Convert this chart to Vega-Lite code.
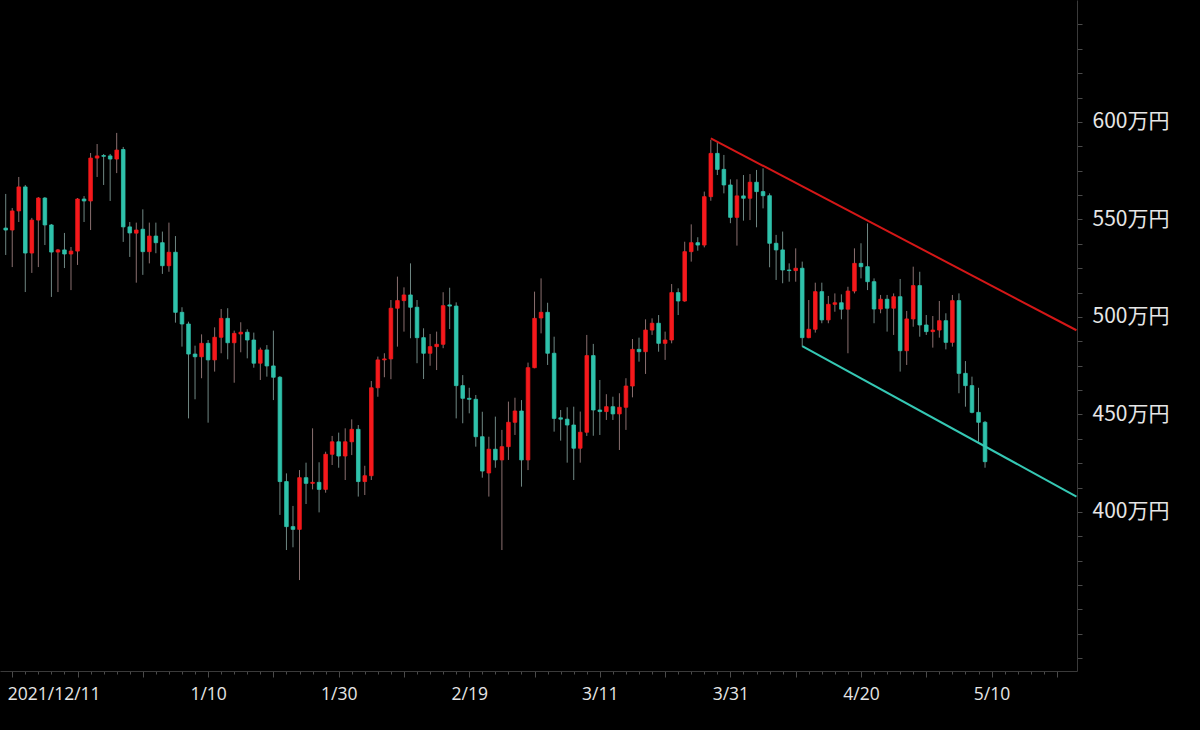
{
  "$schema": "https://vega.github.io/schema/vega-lite/v6.json",
  "description": "BTC/JPY daily candles, Dec 2021 - May 2022, with trend lines",
  "width": 1077,
  "height": 671,
  "autosize": {"type": "none"},
  "padding": {"left": 0, "top": 0, "right": 123, "bottom": 59},
  "background": "#000000",
  "config": {
    "view": {"stroke": null},
    "axis": {"domainColor": "#3a3a3a", "tickColor": "#4a4a4a", "grid": false}
  },
  "datasets": {
    "candles": [
      {"date": "2021-12-10", "open": 545.6, "high": 563.1, "low": 531.8, "close": 544.6},
      {"date": "2021-12-11", "open": 544.6, "high": 555.9, "low": 525.6, "close": 554.4},
      {"date": "2021-12-12", "open": 554.4, "high": 571.8, "low": 548.7, "close": 566.7},
      {"date": "2021-12-13", "open": 566.7, "high": 567.7, "low": 512.8, "close": 532.8},
      {"date": "2021-12-14", "open": 532.8, "high": 550.8, "low": 522.6, "close": 549.7},
      {"date": "2021-12-15", "open": 549.7, "high": 561.5, "low": 525.6, "close": 561.0},
      {"date": "2021-12-16", "open": 561.0, "high": 561.5, "low": 536.9, "close": 547.2},
      {"date": "2021-12-17", "open": 547.2, "high": 547.7, "low": 510.3, "close": 533.3},
      {"date": "2021-12-18", "open": 533.3, "high": 534.9, "low": 512.8, "close": 534.4},
      {"date": "2021-12-19", "open": 534.4, "high": 543.1, "low": 525.1, "close": 532.3},
      {"date": "2021-12-20", "open": 532.3, "high": 535.9, "low": 513.8, "close": 533.8},
      {"date": "2021-12-21", "open": 533.8, "high": 561.0, "low": 526.7, "close": 560.5},
      {"date": "2021-12-22", "open": 560.5, "high": 562.0, "low": 548.7, "close": 559.5},
      {"date": "2021-12-23", "open": 559.5, "high": 584.1, "low": 544.6, "close": 581.5},
      {"date": "2021-12-24", "open": 581.5, "high": 588.7, "low": 571.8, "close": 582.6},
      {"date": "2021-12-25", "open": 582.8, "high": 583.6, "low": 567.7, "close": 582.4},
      {"date": "2021-12-26", "open": 582.6, "high": 583.6, "low": 559.5, "close": 581.0},
      {"date": "2021-12-27", "open": 581.0, "high": 594.4, "low": 573.8, "close": 585.6},
      {"date": "2021-12-28", "open": 585.9, "high": 587.2, "low": 538.5, "close": 546.2},
      {"date": "2021-12-29", "open": 546.2, "high": 548.7, "low": 530.8, "close": 543.1},
      {"date": "2021-12-30", "open": 543.0, "high": 548.4, "low": 517.6, "close": 544.6},
      {"date": "2021-12-31", "open": 545.0, "high": 555.2, "low": 521.6, "close": 533.5},
      {"date": "2022-01-01", "open": 533.5, "high": 548.4, "low": 527.5, "close": 541.5},
      {"date": "2022-01-02", "open": 541.5, "high": 548.4, "low": 532.7, "close": 538.1},
      {"date": "2022-01-03", "open": 538.1, "high": 543.8, "low": 522.1, "close": 526.3},
      {"date": "2022-01-04", "open": 526.3, "high": 548.4, "low": 523.2, "close": 533.2},
      {"date": "2022-01-05", "open": 533.2, "high": 541.5, "low": 497.1, "close": 502.4},
      {"date": "2022-01-06", "open": 502.4, "high": 505.0, "low": 484.8, "close": 496.4},
      {"date": "2022-01-07", "open": 496.4, "high": 497.6, "low": 448.0, "close": 481.0},
      {"date": "2022-01-08", "open": 481.0, "high": 485.3, "low": 457.8, "close": 479.6},
      {"date": "2022-01-09", "open": 479.6, "high": 491.1, "low": 468.6, "close": 486.5},
      {"date": "2022-01-10", "open": 486.5, "high": 488.2, "low": 445.8, "close": 478.0},
      {"date": "2022-01-11", "open": 478.0, "high": 494.7, "low": 472.0, "close": 489.6},
      {"date": "2022-01-12", "open": 489.6, "high": 504.1, "low": 481.4, "close": 499.3},
      {"date": "2022-01-13", "open": 499.3, "high": 504.5, "low": 478.3, "close": 486.8},
      {"date": "2022-01-14", "open": 486.8, "high": 493.0, "low": 466.3, "close": 491.6},
      {"date": "2022-01-15", "open": 491.3, "high": 497.3, "low": 481.9, "close": 492.2},
      {"date": "2022-01-16", "open": 492.2, "high": 493.7, "low": 478.8, "close": 488.2},
      {"date": "2022-01-17", "open": 488.2, "high": 492.0, "low": 474.0, "close": 476.3},
      {"date": "2022-01-18", "open": 476.3, "high": 484.3, "low": 467.7, "close": 483.1},
      {"date": "2022-01-19", "open": 483.1, "high": 485.6, "low": 469.4, "close": 474.9},
      {"date": "2022-01-20", "open": 474.9, "high": 493.0, "low": 457.4, "close": 469.1},
      {"date": "2022-01-21", "open": 469.1, "high": 469.7, "low": 398.5, "close": 415.6},
      {"date": "2022-01-22", "open": 415.6, "high": 419.8, "low": 380.5, "close": 392.5},
      {"date": "2022-01-23", "open": 392.5, "high": 403.1, "low": 381.9, "close": 391.1},
      {"date": "2022-01-24", "open": 391.1, "high": 421.5, "low": 365.1, "close": 417.6},
      {"date": "2022-01-25", "open": 417.6, "high": 425.3, "low": 404.1, "close": 414.7},
      {"date": "2022-01-26", "open": 414.7, "high": 442.9, "low": 411.6, "close": 415.2},
      {"date": "2022-01-27", "open": 415.2, "high": 425.5, "low": 399.8, "close": 411.6},
      {"date": "2022-01-28", "open": 411.6, "high": 430.9, "low": 409.9, "close": 429.6},
      {"date": "2022-01-29", "open": 429.6, "high": 439.0, "low": 424.1, "close": 436.0},
      {"date": "2022-01-30", "open": 436.0, "high": 440.7, "low": 422.7, "close": 428.7},
      {"date": "2022-01-31", "open": 428.7, "high": 442.9, "low": 416.4, "close": 436.0},
      {"date": "2022-02-01", "open": 436.0, "high": 447.5, "low": 429.2, "close": 442.4},
      {"date": "2022-02-02", "open": 442.4, "high": 444.6, "low": 407.9, "close": 415.6},
      {"date": "2022-02-03", "open": 415.6, "high": 423.7, "low": 408.7, "close": 418.6},
      {"date": "2022-02-04", "open": 418.6, "high": 467.2, "low": 416.4, "close": 463.7},
      {"date": "2022-02-05", "open": 463.7, "high": 479.7, "low": 459.1, "close": 478.0},
      {"date": "2022-02-06", "open": 478.0, "high": 481.4, "low": 469.1, "close": 478.5},
      {"date": "2022-02-07", "open": 478.5, "high": 508.7, "low": 468.1, "close": 504.5},
      {"date": "2022-02-08", "open": 504.5, "high": 520.7, "low": 484.8, "close": 508.4},
      {"date": "2022-02-09", "open": 508.4, "high": 515.2, "low": 492.5, "close": 511.3},
      {"date": "2022-02-10", "open": 511.3, "high": 527.5, "low": 489.1, "close": 505.0},
      {"date": "2022-02-11", "open": 505.0, "high": 508.7, "low": 476.3, "close": 489.4},
      {"date": "2022-02-12", "open": 489.4, "high": 494.2, "low": 468.2, "close": 481.4},
      {"date": "2022-02-13", "open": 481.4, "high": 491.3, "low": 475.0, "close": 484.8},
      {"date": "2022-02-14", "open": 484.8, "high": 492.5, "low": 472.8, "close": 486.0},
      {"date": "2022-02-15", "open": 486.0, "high": 512.7, "low": 484.0, "close": 505.8},
      {"date": "2022-02-16", "open": 506.2, "high": 515.0, "low": 493.8, "close": 505.6},
      {"date": "2022-02-17", "open": 505.6, "high": 507.5, "low": 448.0, "close": 464.8},
      {"date": "2022-02-18", "open": 464.8, "high": 470.2, "low": 445.5, "close": 458.3},
      {"date": "2022-02-19", "open": 458.3, "high": 463.7, "low": 450.6, "close": 457.8},
      {"date": "2022-02-20", "open": 457.8, "high": 460.0, "low": 433.5, "close": 438.6},
      {"date": "2022-02-21", "open": 438.6, "high": 451.4, "low": 417.6, "close": 421.0},
      {"date": "2022-02-22", "open": 420.0, "high": 438.6, "low": 407.9, "close": 432.2},
      {"date": "2022-02-23", "open": 432.2, "high": 448.9, "low": 422.7, "close": 426.7},
      {"date": "2022-02-24", "open": 426.7, "high": 442.1, "low": 380.5, "close": 433.5},
      {"date": "2022-02-25", "open": 433.5, "high": 456.6, "low": 426.7, "close": 446.0},
      {"date": "2022-02-26", "open": 446.0, "high": 458.6, "low": 439.5, "close": 451.8},
      {"date": "2022-02-27", "open": 451.8, "high": 457.4, "low": 413.0, "close": 426.7},
      {"date": "2022-02-28", "open": 426.7, "high": 476.6, "low": 421.5, "close": 474.0},
      {"date": "2022-03-01", "open": 474.0, "high": 513.0, "low": 473.7, "close": 499.3},
      {"date": "2022-03-02", "open": 499.5, "high": 519.8, "low": 491.6, "close": 502.4},
      {"date": "2022-03-03", "open": 502.4, "high": 507.3, "low": 475.4, "close": 481.4},
      {"date": "2022-03-04", "open": 481.4, "high": 489.9, "low": 441.2, "close": 448.0},
      {"date": "2022-03-05", "open": 448.3, "high": 452.3, "low": 436.6, "close": 447.6},
      {"date": "2022-03-06", "open": 447.6, "high": 453.7, "low": 425.3, "close": 444.6},
      {"date": "2022-03-07", "open": 444.6, "high": 454.0, "low": 416.4, "close": 432.7},
      {"date": "2022-03-08", "open": 432.7, "high": 451.5, "low": 425.3, "close": 440.9},
      {"date": "2022-03-09", "open": 440.9, "high": 490.8, "low": 439.0, "close": 480.2},
      {"date": "2022-03-10", "open": 480.2, "high": 486.2, "low": 439.1, "close": 452.3},
      {"date": "2022-03-11", "open": 452.3, "high": 467.7, "low": 439.5, "close": 451.5},
      {"date": "2022-03-12", "open": 451.5, "high": 460.4, "low": 447.2, "close": 454.0},
      {"date": "2022-03-13", "open": 454.0, "high": 459.1, "low": 447.2, "close": 450.3},
      {"date": "2022-03-14", "open": 450.3, "high": 460.9, "low": 431.8, "close": 453.7},
      {"date": "2022-03-15", "open": 453.7, "high": 468.6, "low": 442.1, "close": 464.6},
      {"date": "2022-03-16", "open": 464.6, "high": 488.7, "low": 458.8, "close": 483.4},
      {"date": "2022-03-17", "open": 483.4, "high": 489.4, "low": 477.1, "close": 482.2},
      {"date": "2022-03-18", "open": 482.2, "high": 498.8, "low": 470.8, "close": 493.3},
      {"date": "2022-03-19", "open": 493.3, "high": 499.3, "low": 490.8, "close": 496.8},
      {"date": "2022-03-20", "open": 496.8, "high": 501.0, "low": 482.2, "close": 486.5},
      {"date": "2022-03-21", "open": 486.5, "high": 492.5, "low": 478.0, "close": 488.2},
      {"date": "2022-03-22", "open": 488.2, "high": 516.9, "low": 486.5, "close": 512.5},
      {"date": "2022-03-23", "open": 512.5, "high": 514.7, "low": 501.0, "close": 508.2},
      {"date": "2022-03-24", "open": 508.2, "high": 538.6, "low": 507.8, "close": 533.5},
      {"date": "2022-03-25", "open": 533.5, "high": 547.5, "low": 528.4, "close": 538.1},
      {"date": "2022-03-26", "open": 538.1, "high": 540.9, "low": 534.0, "close": 536.9},
      {"date": "2022-03-27", "open": 536.9, "high": 564.3, "low": 535.7, "close": 561.7},
      {"date": "2022-03-28", "open": 561.7, "high": 590.8, "low": 559.6, "close": 583.9},
      {"date": "2022-03-29", "open": 583.9, "high": 589.9, "low": 572.8, "close": 575.7},
      {"date": "2022-03-30", "open": 575.7, "high": 583.1, "low": 563.4, "close": 567.7},
      {"date": "2022-03-31", "open": 567.7, "high": 570.6, "low": 548.1, "close": 551.1},
      {"date": "2022-04-01", "open": 551.1, "high": 570.6, "low": 536.6, "close": 562.1},
      {"date": "2022-04-02", "open": 562.1, "high": 572.8, "low": 549.4, "close": 560.9},
      {"date": "2022-04-03", "open": 560.9, "high": 573.3, "low": 549.7, "close": 569.1},
      {"date": "2022-04-04", "open": 569.1, "high": 575.4, "low": 546.0, "close": 564.3},
      {"date": "2022-04-05", "open": 564.3, "high": 576.2, "low": 555.7, "close": 562.2},
      {"date": "2022-04-06", "open": 562.2, "high": 563.4, "low": 525.5, "close": 537.8},
      {"date": "2022-04-07", "open": 537.8, "high": 542.1, "low": 519.0, "close": 534.4},
      {"date": "2022-04-08", "open": 534.4, "high": 543.8, "low": 517.3, "close": 524.1},
      {"date": "2022-04-09", "open": 524.1, "high": 527.5, "low": 518.1, "close": 523.8},
      {"date": "2022-04-10", "open": 523.8, "high": 535.2, "low": 518.1, "close": 525.0},
      {"date": "2022-04-11", "open": 525.0, "high": 528.4, "low": 484.8, "close": 489.4},
      {"date": "2022-04-12", "open": 489.4, "high": 508.7, "low": 489.1, "close": 493.7},
      {"date": "2022-04-13", "open": 493.7, "high": 517.6, "low": 492.0, "close": 513.0},
      {"date": "2022-04-14", "open": 513.0, "high": 517.6, "low": 496.8, "close": 498.5},
      {"date": "2022-04-15", "open": 498.5, "high": 510.8, "low": 496.8, "close": 506.5},
      {"date": "2022-04-16", "open": 506.5, "high": 512.1, "low": 502.7, "close": 507.3},
      {"date": "2022-04-17", "open": 507.3, "high": 511.6, "low": 498.8, "close": 504.0},
      {"date": "2022-04-18", "open": 504.0, "high": 515.5, "low": 481.4, "close": 513.3},
      {"date": "2022-04-19", "open": 513.3, "high": 535.2, "low": 512.1, "close": 527.5},
      {"date": "2022-04-20", "open": 527.5, "high": 537.8, "low": 519.8, "close": 525.8},
      {"date": "2022-04-21", "open": 525.8, "high": 548.0, "low": 513.8, "close": 518.1},
      {"date": "2022-04-22", "open": 518.1, "high": 519.8, "low": 496.8, "close": 504.1},
      {"date": "2022-04-23", "open": 504.1, "high": 511.3, "low": 501.9, "close": 509.1},
      {"date": "2022-04-24", "open": 509.1, "high": 511.3, "low": 492.5, "close": 504.5},
      {"date": "2022-04-25", "open": 504.5, "high": 512.1, "low": 490.8, "close": 510.4},
      {"date": "2022-04-26", "open": 510.4, "high": 519.5, "low": 472.0, "close": 482.7},
      {"date": "2022-04-27", "open": 482.7, "high": 503.1, "low": 475.4, "close": 499.0},
      {"date": "2022-04-28", "open": 499.0, "high": 525.8, "low": 495.0, "close": 516.1},
      {"date": "2022-04-29", "open": 516.1, "high": 523.2, "low": 489.9, "close": 495.9},
      {"date": "2022-04-30", "open": 495.9, "high": 501.0, "low": 490.8, "close": 492.5},
      {"date": "2022-05-01", "open": 492.5, "high": 500.5, "low": 484.3, "close": 493.3},
      {"date": "2022-05-02", "open": 493.3, "high": 508.2, "low": 489.4, "close": 498.1},
      {"date": "2022-05-03", "open": 498.1, "high": 501.9, "low": 483.4, "close": 487.0},
      {"date": "2022-05-04", "open": 487.0, "high": 511.3, "low": 484.8, "close": 508.4},
      {"date": "2022-05-05", "open": 508.4, "high": 512.1, "low": 460.9, "close": 471.1},
      {"date": "2022-05-06", "open": 471.1, "high": 477.4, "low": 454.0, "close": 464.8},
      {"date": "2022-05-07", "open": 464.8, "high": 469.4, "low": 450.6, "close": 451.1},
      {"date": "2022-05-08", "open": 451.1, "high": 463.7, "low": 436.0, "close": 446.0},
      {"date": "2022-05-09", "open": 446.0, "high": 446.7, "low": 422.7, "close": 425.8}
    ],
    "trend": [
      {"line": "resistance", "date": "2022-03-28", "price": 591.6},
      {"line": "resistance", "date": "2022-05-23", "price": 493.2},
      {"line": "support", "date": "2022-04-11", "price": 485.1},
      {"line": "support", "date": "2022-05-23", "price": 407.9}
    ]
  },
  "layer": [
    {
      "data": {"name": "candles"},
      "mark": {"type": "rule", "strokeWidth": 1},
      "encoding": {
        "x": {
          "field": "date",
          "type": "temporal",
          "scale": {"type": "utc", "domain": [1639085040000, 1653205200000]},
          "axis": {
            "orient": "bottom",
            "title": null,
            "tickCount": 500,
            "values": [1639180800000, 1639353600000, 1639526400000, 1639699200000, 1639872000000, 1640044800000, 1640217600000, 1640390400000, 1640563200000, 1640736000000, 1640908800000, 1641081600000, 1641254400000, 1641427200000, 1641600000000, 1641772800000, 1641945600000, 1642118400000, 1642291200000, 1642464000000, 1642636800000, 1642809600000, 1642982400000, 1643155200000, 1643328000000, 1643500800000, 1643673600000, 1643846400000, 1644019200000, 1644192000000, 1644364800000, 1644537600000, 1644710400000, 1644883200000, 1645056000000, 1645228800000, 1645401600000, 1645574400000, 1645747200000, 1645920000000, 1646092800000, 1646265600000, 1646438400000, 1646611200000, 1646784000000, 1646956800000, 1647129600000, 1647302400000, 1647475200000, 1647648000000, 1647820800000, 1647993600000, 1648166400000, 1648339200000, 1648512000000, 1648684800000, 1648857600000, 1649030400000, 1649203200000, 1649376000000, 1649548800000, 1649721600000, 1649894400000, 1650067200000, 1650240000000, 1650412800000, 1650585600000, 1650758400000, 1650931200000, 1651104000000, 1651276800000, 1651449600000, 1651622400000, 1651795200000, 1651968000000, 1652140800000, 1652313600000, 1652486400000, 1652659200000, 1652832000000, 1653004800000],
            "labelExpr": "utcFormat(datum.value, '%m/%d') == '12/11' ? '2021/12/11' : (indexof(['01/10','01/30','02/19','03/11','03/31','04/20','05/10'], utcFormat(datum.value, '%m/%d')) >= 0 ? utcFormat(datum.value, '%-m/%-d') : '')",
            "labelFlush": false,
            "labelAlign": {"condition": {"test": "utcFormat(datum.value, '%m/%d') == '12/11'", "value": "left"}, "value": "center"},
            "labelOffset": {"condition": {"test": "utcFormat(datum.value, '%m/%d') == '12/11'", "value": -5}, "value": 0},
            "labelOverlap": false,
            "labelFont": "Open Sans",
            "labelFontSize": 17.5,
            "labelColor": "#e6e6e6",
            "labelPadding": 8,
            "tickSize": {"condition": {"test": "(datum.value - 1639180800000) % 864000000 === 0", "value": 6}, "value": 3},
            "domainColor": "#3a3a3a"
          }
        },
        "y": {
          "field": "low",
          "type": "quantitative",
          "scale": {"domain": [318.46, 662.56], "nice": false, "zero": false},
          "axis": {
            "orient": "right",
            "title": null,
            "tickCount": 500,
            "values": [325, 337.5, 350, 362.5, 375, 387.5, 400, 412.5, 425, 437.5, 450, 462.5, 475, 487.5, 500, 512.5, 525, 537.5, 550, 562.5, 575, 587.5, 600, 612.5, 625, 637.5, 650],
            "labelExpr": "datum.value % 50 === 0 && datum.value >= 400 && datum.value <= 600 ? datum.value + '万円' : ''",
            "labelFont": "Noto Sans CJK JP",
            "labelFontSize": 21,
            "labelColor": "#e6e6e6",
            "labelPadding": 10,
            "tickSize": 5
          }
        },
        "y2": {"field": "high"},
        "color": {
          "condition": {"test": "datum.close >= datum.open", "value": "#8a6f6f"},
          "value": "#6f8783"
        }
      }
    },
    {
      "data": {"name": "candles"},
      "mark": {"type": "bar", "size": 3.6, "strokeWidth": 0.8},
      "encoding": {
        "x": {"field": "date", "type": "temporal"},
        "y": {"field": "open", "type": "quantitative"},
        "y2": {"field": "close"},
        "color": {
          "condition": {"test": "datum.close >= datum.open", "value": "#f5191c"},
          "value": "#2fc2ab"
        },
        "stroke": {
          "condition": {"test": "datum.close >= datum.open", "value": "#f5191c"},
          "value": "#2fc2ab"
        }
      }
    },
    {
      "data": {"name": "trend"},
      "mark": {"type": "line", "strokeWidth": 2, "clip": true},
      "encoding": {
        "x": {"field": "date", "type": "temporal"},
        "y": {"field": "price", "type": "quantitative"},
        "detail": {"field": "line"},
        "color": {
          "field": "line",
          "type": "nominal",
          "scale": {"domain": ["resistance", "support"], "range": ["#d41717", "#35c8b4"]},
          "legend": null
        }
      }
    }
  ]
}
